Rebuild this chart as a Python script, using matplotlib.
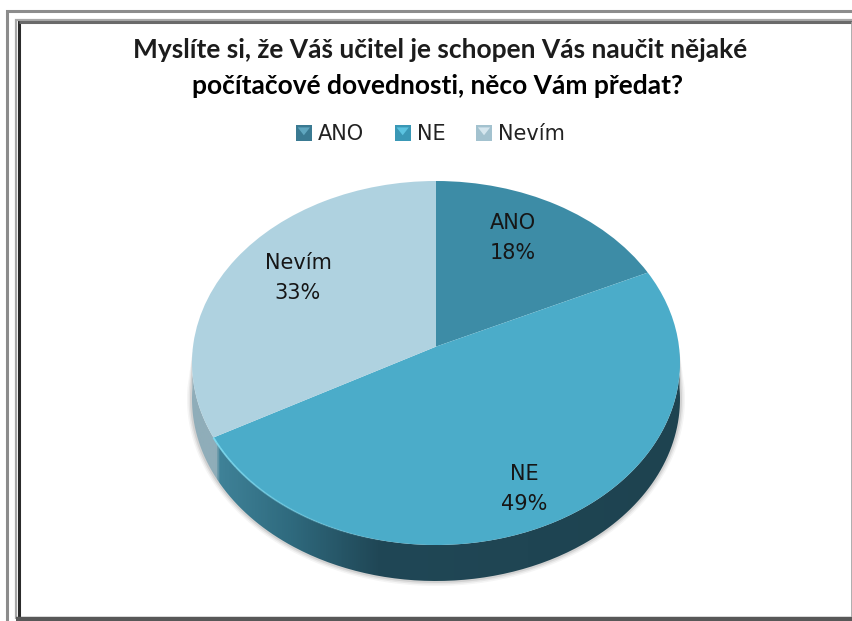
import numpy as np
import matplotlib
matplotlib.use("Agg")
import matplotlib.pyplot as plt
from matplotlib.colors import LinearSegmentedColormap
from matplotlib.patches import PathPatch, Patch, Polygon
from matplotlib.path import Path
from matplotlib.transforms import Transform

W, H = 853, 621
categories = ["ANO", "NE", "Nevím"]
values = [18, 49, 33]
colors = ["#3d8ca6", "#4bacc9", "#afd2e0"]
title_lines = ["Myslíte si, že Váš učitel je schopen Vás naučit nějaké",
               "počítačové dovednosti, něco Vám předat?"]


class Tilt(Transform):
    """Perspective of a tilted disc: keeps the unit circle, moves its centre upward."""
    input_dims = output_dims = 2

    def __init__(self, beta):
        super().__init__()
        self.beta = beta

    def transform_non_affine(self, xy):
        xy = np.asarray(xy, float)
        den = 1 + self.beta * xy[:, 1]
        return np.c_[xy[:, 0] * np.sqrt(1 - self.beta ** 2) / den,
                     (xy[:, 1] + self.beta) / den]


fig = plt.figure(figsize=(W / 100, H / 100), dpi=100, facecolor="white")

# overlay in pixel coordinates for frame and text
ov = fig.add_axes([0, 0, 1, 1], zorder=5)
ov.set_xlim(0, W); ov.set_ylim(H, 0); ov.axis("off"); ov.patch.set_alpha(0)
for xs, ys, c, lw in [
    ([7.5, 7.5, W], [H, 11, 11], "#8c8c8c", 2.2),
    ([19, 19], [H - 3, 20], "#2b2b2b", 2.2),
    ([16.5, 16.5, W], [H - 2, 19.5, 19.5], "#a8a8a8", 1.6),
    ([19, W], [22, 22], "#6a6a6a", 2.2),
    ([16, W], [618.5, 618.5], "#585858", 3.2),
    ([W - 1, W - 1], [22, 617], "#a0a0a0", 1.2),
]:
    ov.plot(xs, ys, color=c, lw=lw, solid_capstyle="butt", solid_joinstyle="miter")

# pie: ellipse centre (436,363), radii 244 x 182, rim depth 36 px
cx, cy, rx, ry, depth = 436, 363, 244, 182, 36
d = depth / ry
ax = fig.add_axes([(cx - rx - 12) / W, 1 - (cy + ry + depth + 12) / H,
                   (2 * rx + 24) / W, (2 * ry + depth + 24) / H])
ax.axis("off")
xl = (-1 - 12 / rx, 1 + 12 / rx)
yl = (-1 - d - 12 / ry, 1 + 12 / ry)

th = np.linspace(np.pi * 0.98, 2.02 * np.pi, 240)
xb, yb = np.cos(th), np.sin(th)
side = Path(np.r_[np.c_[xb, yb - d], np.c_[xb[::-1], yb[::-1]], [[xb[0], yb[0] - d]]], closed=False)

# soft shadow
for k, a in [(5, .06), (3.5, .09), (2, .14)]:
    s = np.c_[xb * (1 + k / rx), yb * (1 + k / ry) - d]
    ax.add_patch(PathPatch(Path(np.r_[s, np.c_[xb[::-1], yb[::-1]], s[:1]]), fc="#555555", ec="none", alpha=a, zorder=1))

cm = LinearSegmentedColormap.from_list("rim", [
    (0.0, "#8fadb9"), (0.047, "#8fadb9"), (0.054, "#3f8298"), (0.20, "#2f6a7e"),
    (0.38, "#204756"), (1.0, "#1e4350")])
grad = np.linspace(0, 1, 500)[None, :]
im = ax.imshow(grad, extent=(-1, 1, -1 - d, 1), cmap=cm, aspect="auto", zorder=2, origin="lower")
clip = PathPatch(side, transform=ax.transData, fc="none", ec="none")
ax.add_patch(clip)
im.set_clip_path(clip)

tilt = Tilt(0.09)
wedges, _ = ax.pie(values, colors=colors, startangle=90, counterclock=False, radius=1,
                   center=(0, 0), frame=True, wedgeprops=dict(linewidth=0, zorder=3))
for w in wedges:
    w.set_transform(tilt + ax.transData)
ax.set_aspect("auto")
ax.set_xlim(*xl); ax.set_ylim(*yl)
ax.axis("off")

# bright front edge, fading out toward the bottom
b1 = 90 - 360 * (values[0] + values[1]) / sum(values)
edge_angles = np.radians(np.linspace(b1, -100, 31))
for i in range(30):
    ax.plot(np.cos(edge_angles[i:i + 2]), np.sin(edge_angles[i:i + 2]), color="#7edcf2", lw=1.3,
            zorder=4, alpha=.9 * (1 - i / 30), solid_capstyle="butt", transform=tilt + ax.transData)

# title
ov.text(440, 50, title_lines[0], ha="center", va="center", fontsize=19,
        family="Lato", weight="bold", color="#1c1c1c")
ov.text(438, 86, title_lines[1], ha="center", va="center", fontsize=19,
        family="Lato", weight="bold", color="#000000")

# legend
handle_colors = ["#3a7a92", "#3a98b6", "#a3c2cf"]
handles = [Patch(fc=c, ec="none") for c in handle_colors]
leg = ov.legend(handles, categories, ncol=3, loc="center", bbox_to_anchor=(430.5 / W, 1 - 134.5 / H),
                bbox_transform=fig.transFigure, frameon=False, fontsize=15, handlelength=0.78,
                handleheight=0.78, handletextpad=0.3, columnspacing=1.45, borderpad=0)
for t_ in leg.get_texts():
    t_.set_color("#222222")

# lighter bevel on each legend key
fig.canvas.draw()
light = ["#5fa6bf", "#5cc3e0", "#d5e6ee"]
for h, c in zip(leg.legend_handles, light):
    bb = h.get_window_extent()
    x0, x1 = bb.x0, bb.x1
    y1 = H - bb.y1
    y0 = H - bb.y0
    ov.add_patch(Polygon([[x0 + 2, y1 + 2], [x1 - 2, y1 + 2], [(x0 + x1) / 2, (y0 + y1) / 2 + 2]],
                         closed=True, fc=c, ec="none", zorder=6))

# data labels
pos = [(513, 238), (524, 489), (298, 278)]
for (x, y), c, v in zip(pos, categories, values):
    ov.text(x, y, f"{c}\n{v}%", ha="center", va="center", fontsize=15, linespacing=1.65,
            family="DejaVu Sans", color="#161616")

fig.savefig("out.png", dpi=100, facecolor="white")
